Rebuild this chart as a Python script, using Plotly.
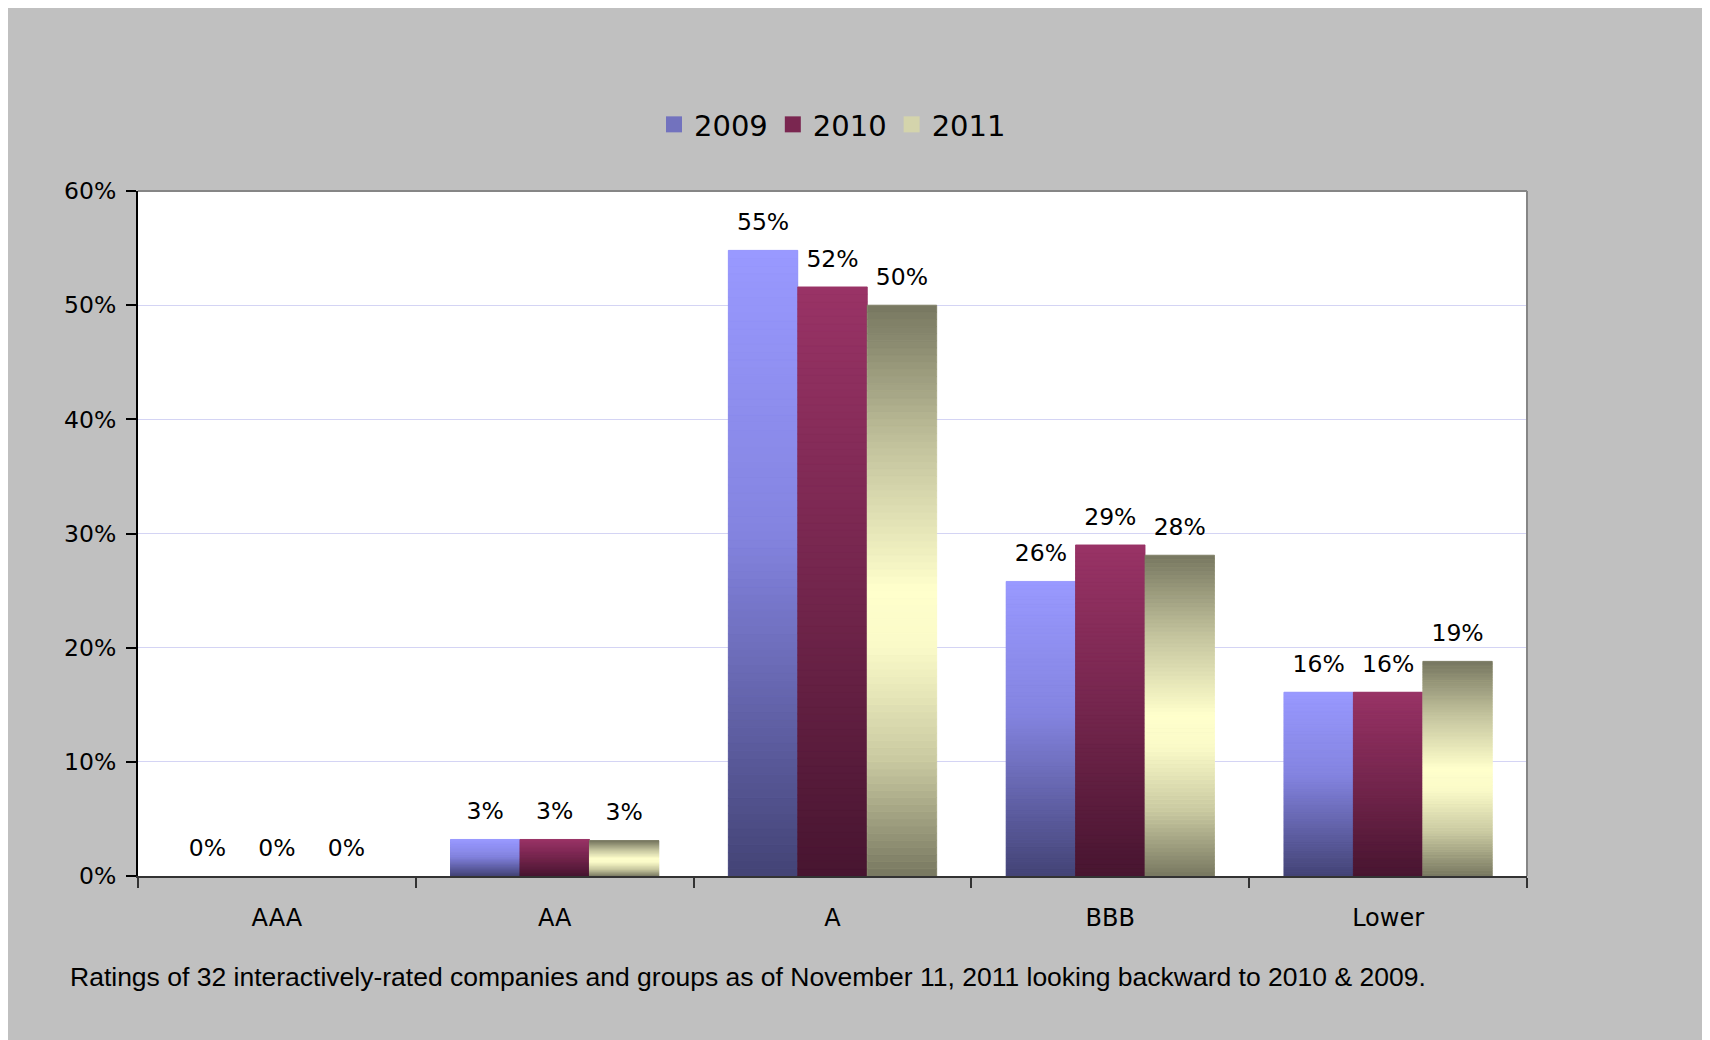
import plotly.graph_objects as go

# ---- data ----
categories = ["AAA", "AA", "A", "BBB", "Lower"]
years = ["2009", "2010", "2011"]
share_2009 = [0.0, 0.032, 0.548, 0.258, 0.161]
share_2010 = [0.0, 0.032, 0.516, 0.290, 0.161]
share_2011 = [0.0, 0.031, 0.500, 0.281, 0.188]
y_ticks = [0.0, 0.1, 0.2, 0.3, 0.4, 0.5, 0.6]
caption = ("Ratings of 32 interactively-rated companies and groups as of "
           "November 11, 2011 looking backward to 2010 & 2009.")

series = [share_2009, share_2010, share_2011]

# ---- styles: gradient stops (fraction from bar top -> colour) ----
gradients = [
    [(0.0, (0x99, 0x99, 0xFF)), (0.45, (0x84, 0x84, 0xE0)), (1.0, (0x43, 0x43, 0x75))],
    [(0.0, (0x99, 0x33, 0x66)), (0.5, (0x74, 0x26, 0x4D)), (1.0, (0x47, 0x15, 0x30))],
    [(0.0, (0x77, 0x77, 0x60)), (0.25, (0xC4, 0xC4, 0x9E)), (0.5, (0xFF, 0xFF, 0xCC)),
     (0.6, (0xFA, 0xFA, 0xC8)), (0.8, (0xC8, 0xC8, 0xA0)), (1.0, (0x77, 0x77, 0x60))],
]
legend_colors = ["#7272BE", "#7A2650", "#D4D4AC"]


def grad_color(stops, t):
    for (t0, c0), (t1, c1) in zip(stops[:-1], stops[1:]):
        if t0 <= t <= t1:
            f = (t - t0) / (t1 - t0) if t1 > t0 else 0
            c = [round(a + (b - a) * f) for a, b in zip(c0, c1)]
            return "rgb(%d,%d,%d)" % tuple(c)
    return "rgb(%d,%d,%d)" % stops[-1][1]


N_SLICES = 80
LABEL_TEMPLATE = "<span style='font-size:23.5px'>%{y:.0%}</span><br>&nbsp;"
fig = go.Figure()

for yr, vals, stops, lc in zip(years, series, gradients, legend_colors):
    # the real bar (value label)
    fig.add_trace(go.Bar(
        x=categories, y=vals, name=yr, offsetgroup=yr, showlegend=False,
        marker=dict(color=grad_color(stops, 0.5), line=dict(width=0)),
        texttemplate=LABEL_TEMPLATE, textposition="outside",
        textfont=dict(family="DejaVu Sans", size=11, color="#000"),
        cliponaxis=False,
    ))
    # gradient overlay: same bar split into thin stacked slices
    seam_w = [0.8 if v > 0 else 0 for v in vals]
    for k in range(N_SLICES):
        t = 1 - (k + 0.5) / N_SLICES
        col = grad_color(stops, t)
        fig.add_trace(go.Bar(
            x=categories,
            y=[v / N_SLICES for v in vals],
            base=[v * k / N_SLICES for v in vals],
            offsetgroup=yr, showlegend=False, hoverinfo="skip",
            marker=dict(color=col, line=dict(width=seam_w, color=col)),
        ))

# legend entries
for yr, lc in zip(years, legend_colors):
    fig.add_trace(go.Scatter(
        x=[None], y=[None], mode="markers", name=yr,
        marker=dict(symbol="square", size=16, color=lc, line=dict(width=0)),
    ))

W, H = 1710, 1040
ML, MR, MT, MB = 130, 191, 183, 172
PW, PH = W - ML - MR, H - MT - MB


def px_x(px):
    return (px - ML) / PW


def px_y(py):
    return (H - MB - py) / PH


fig.update_layout(
    width=W, height=H,
    margin=dict(l=ML, r=MR, t=MT, b=MB, pad=0),
    paper_bgcolor="#C0C0C0", plot_bgcolor="white",
    barmode="group", bargap=0.25, bargroupgap=0,
    font=dict(family="DejaVu Sans", size=22, color="#000"),
    showlegend=True,
    legend=dict(orientation="h", x=0.5, xanchor="center",
                y=px_y(116.5), yanchor="middle",
                font=dict(family="DejaVu Sans", size=29, color="#000"),
                bgcolor="rgba(0,0,0,0)", itemclick=False, itemwidth=30),
    xaxis=dict(type="category", tickson="boundaries", ticks="outside", ticklen=10,
               tickwidth=1.5, tickcolor="#333", showline=True, linecolor="#333",
               linewidth=2, showgrid=False, ticklabelstandoff=19,
               tickfont=dict(family="DejaVu Sans", size=24)),
    yaxis=dict(range=[0, 0.6], tickvals=y_ticks, tickformat=".0%", ticks="outside",
               ticklen=10, tickwidth=1.5, tickcolor="#000", showline=True,
               linecolor="#000", linewidth=2, showgrid=True, gridcolor="#D4D4F4",
               gridwidth=1, zeroline=False, ticklabelstandoff=5,
               tickfont=dict(family="DejaVu Sans", size=23.5)),
    shapes=[
        dict(type="line", xref="paper", yref="paper", x0=0, x1=1, y0=1, y1=1,
             line=dict(color="#868686", width=2)),
        dict(type="line", xref="paper", yref="paper", x0=1, x1=1, y0=0, y1=1,
             line=dict(color="#868686", width=2)),
    ],
    annotations=[
        dict(text=caption, xref="paper", yref="paper", x=px_x(60), y=px_y(969),
             xanchor="left", yanchor="middle", showarrow=False,
             font=dict(family="Liberation Sans", size=26.5, color="#000")),
    ],
)

fig.write_html("out.html")
